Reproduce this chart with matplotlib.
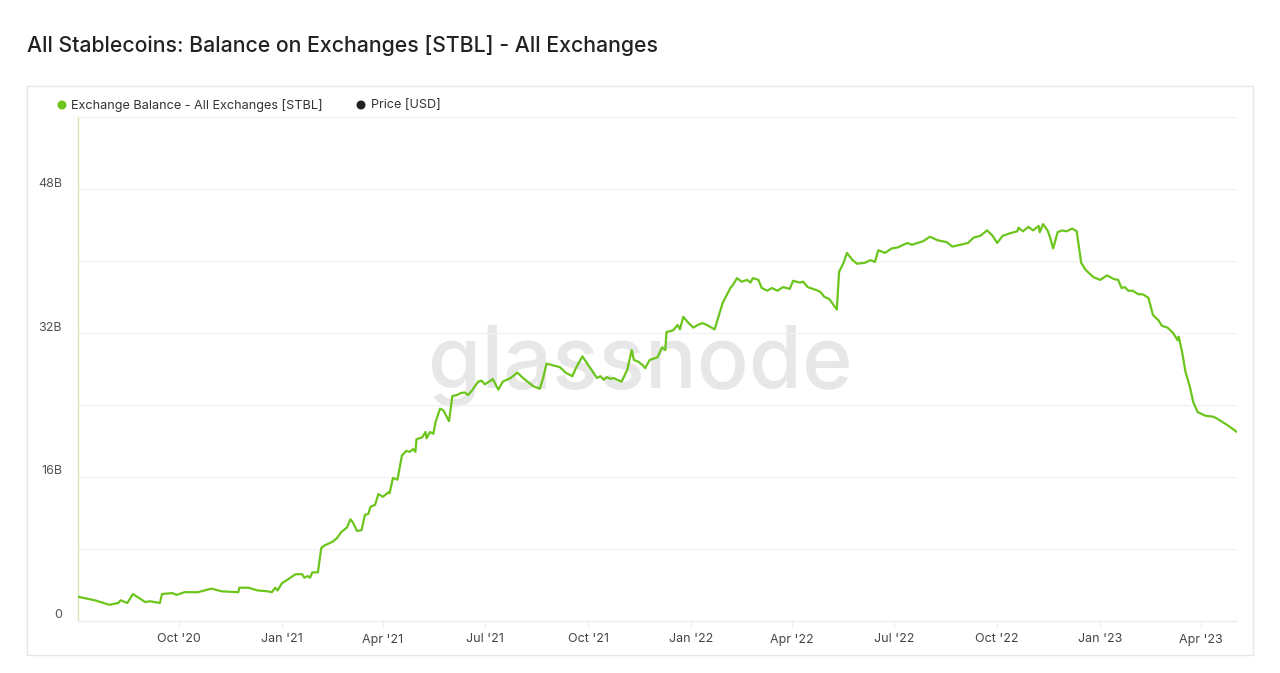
import matplotlib
matplotlib.use("Agg")
import matplotlib.pyplot as plt
import matplotlib.dates as mdates
from matplotlib.ticker import FixedLocator, FuncFormatter
from matplotlib.patches import Rectangle, Ellipse
from matplotlib.transforms import ScaledTranslation
import pandas as pd

plt.rcParams['font.family'] = ['Inter', 'DejaVu Sans']

title = "All Stablecoins: Balance on Exchanges [STBL] - All Exchanges"
series_name = "Exchange Balance - All Exchanges [STBL]"
price_name = "Price [USD]"

dates = [
    "2020-07-03", "2020-07-18", "2020-07-31", "2020-08-08", "2020-08-10", "2020-08-16",
    "2020-08-21", "2020-09-01", "2020-09-05", "2020-09-14", "2020-09-16", "2020-09-25",
    "2020-09-29", "2020-10-06", "2020-10-18", "2020-10-30", "2020-11-08", "2020-11-23",
    "2020-11-24", "2020-12-02", "2020-12-10", "2020-12-19", "2020-12-23", "2020-12-26",
    "2020-12-28", "2021-01-01", "2021-01-06", "2021-01-13", "2021-01-19", "2021-01-21",
    "2021-01-24", "2021-01-26", "2021-01-28", "2021-02-02", "2021-02-05", "2021-02-08",
    "2021-02-15", "2021-02-19", "2021-02-23", "2021-02-28", "2021-03-03", "2021-03-05",
    "2021-03-09", "2021-03-13", "2021-03-16", "2021-03-19", "2021-03-21", "2021-03-25",
    "2021-03-28", "2021-04-01", "2021-04-06", "2021-04-07", "2021-04-10", "2021-04-14",
    "2021-04-18", "2021-04-22", "2021-04-25", "2021-04-28", "2021-04-30", "2021-05-01",
    "2021-05-06", "2021-05-09", "2021-05-10", "2021-05-13", "2021-05-16", "2021-05-18",
    "2021-05-22", "2021-05-25", "2021-05-30", "2021-06-02", "2021-06-06", "2021-06-09",
    "2021-06-13", "2021-06-16", "2021-06-20", "2021-06-25", "2021-06-28", "2021-07-01",
    "2021-07-06", "2021-07-08", "2021-07-13", "2021-07-17", "2021-07-24", "2021-07-30",
    "2021-08-04", "2021-08-09", "2021-08-13", "2021-08-19", "2021-08-22", "2021-08-25",
    "2021-08-31", "2021-09-06", "2021-09-11", "2021-09-17", "2021-09-21", "2021-09-26",
    "2021-10-03", "2021-10-09", "2021-10-12", "2021-10-15", "2021-10-18", "2021-10-21",
    "2021-10-24", "2021-10-27", "2021-10-31", "2021-11-05", "2021-11-09", "2021-11-11",
    "2021-11-15", "2021-11-19", "2021-11-21", "2021-11-25", "2021-12-02", "2021-12-06",
    "2021-12-09", "2021-12-10", "2021-12-16", "2021-12-20", "2021-12-22", "2021-12-25",
    "2021-12-29", "2022-01-03", "2022-01-07", "2022-01-11", "2022-01-15", "2022-01-22",
    "2022-01-29", "2022-02-05", "2022-02-07", "2022-02-11", "2022-02-15", "2022-02-20",
    "2022-02-23", "2022-02-25", "2022-03-02", "2022-03-05", "2022-03-10", "2022-03-14",
    "2022-03-19", "2022-03-24", "2022-03-30", "2022-04-02", "2022-04-08", "2022-04-11",
    "2022-04-15", "2022-04-22", "2022-04-26", "2022-04-30", "2022-05-04", "2022-05-07",
    "2022-05-11", "2022-05-13", "2022-05-17", "2022-05-20", "2022-05-25", "2022-05-29",
    "2022-06-05", "2022-06-10", "2022-06-14", "2022-06-17", "2022-06-23", "2022-06-29",
    "2022-07-04", "2022-07-13", "2022-07-17", "2022-07-27", "2022-08-02", "2022-08-09",
    "2022-08-17", "2022-08-22", "2022-08-29", "2022-09-05", "2022-09-10", "2022-09-16",
    "2022-09-22", "2022-09-27", "2022-10-01", "2022-10-06", "2022-10-13", "2022-10-19",
    "2022-10-20", "2022-10-24", "2022-10-29", "2022-11-02", "2022-11-07", "2022-11-08",
    "2022-11-11", "2022-11-15", "2022-11-17", "2022-11-20", "2022-11-24", "2022-11-28",
    "2022-12-02", "2022-12-07", "2022-12-11", "2022-12-15", "2022-12-19", "2022-12-26",
    "2023-01-01", "2023-01-07", "2023-01-13", "2023-01-17", "2023-01-20", "2023-01-23",
    "2023-01-26", "2023-01-30", "2023-02-04", "2023-02-08", "2023-02-13", "2023-02-17",
    "2023-02-22", "2023-02-25", "2023-03-02", "2023-03-07", "2023-03-11", "2023-03-12",
    "2023-03-15", "2023-03-18", "2023-03-22", "2023-03-25", "2023-03-29", "2023-04-05",
    "2023-04-12", "2023-04-15", "2023-04-24", "2023-05-03",
]

balance_b = [
    2.7, 2.3, 1.8, 2.0, 2.3, 2.0,
    3.0, 2.1, 2.2, 2.0, 3.0, 3.1,
    2.9, 3.2, 3.2, 3.6, 3.3, 3.2,
    3.7, 3.7, 3.4, 3.3, 3.2, 3.7,
    3.4, 4.2, 4.6, 5.2, 5.2, 4.8,
    5.0, 4.8, 5.4, 5.4, 8.1, 8.4,
    8.8, 9.2, 9.9, 10.4, 11.3, 11.0,
    10.0, 10.1, 11.8, 11.9, 12.7, 12.9,
    14.1, 13.8, 14.3, 14.2, 15.9, 15.7,
    18.4, 18.9, 18.8, 19.1, 18.8, 20.2,
    20.4, 21.0, 20.3, 21.0, 20.8, 22.1,
    23.6, 23.4, 22.2, 25.0, 25.1, 25.3,
    25.4, 25.1, 25.7, 26.6, 26.7, 26.3,
    26.7, 26.9, 25.7, 26.6, 27.0, 27.6,
    27.0, 26.5, 26.1, 25.8, 27.0, 28.6,
    28.4, 28.2, 27.6, 27.2, 28.3, 29.4,
    28.1, 27.0, 27.2, 26.8, 27.1, 26.9,
    27.0, 26.8, 26.6, 27.9, 30.1, 29.0,
    28.8, 28.4, 28.1, 29.0, 29.3, 30.4,
    30.1, 32.1, 32.3, 32.9, 32.4, 33.8,
    33.2, 32.6, 32.9, 33.1, 32.9, 32.4,
    35.3, 37.0, 37.3, 38.1, 37.7, 37.9,
    37.6, 38.1, 37.9, 37.0, 36.7, 37.0,
    36.7, 37.1, 36.9, 37.8, 37.6, 37.7,
    37.1, 36.8, 36.6, 36.0, 35.8, 35.3,
    34.6, 38.8, 39.8, 40.9, 40.1, 39.7,
    39.8, 40.1, 39.9, 41.2, 40.9, 41.4,
    41.5, 42.0, 41.8, 42.2, 42.7, 42.3,
    42.1, 41.6, 41.8, 42.0, 42.6, 42.8,
    43.4, 42.8, 42.0, 42.8, 43.1, 43.3,
    43.7, 43.3, 43.8, 43.4, 43.9, 43.2,
    44.1, 43.4, 42.7, 41.4, 43.2, 43.4,
    43.3, 43.6, 43.3, 39.8, 39.0, 38.2,
    37.9, 38.4, 38.0, 37.9, 37.0, 37.1,
    36.7, 36.7, 36.3, 36.3, 35.9, 34.0,
    33.4, 32.8, 32.6, 32.0, 31.2, 31.6,
    29.9, 27.7, 26.0, 24.3, 23.2, 22.8,
    22.7, 22.5, 21.8, 21.0,
]

y_tick_values = [0, 16, 32, 48]
y_tick_labels = ["0", "16B", "32B", "48B"]
y_grid_values = [8, 24, 40, 56]
x_tick_dates = ["2020-10-01", "2021-01-01", "2021-04-01", "2021-07-01", "2021-10-01",
                "2022-01-01", "2022-04-01", "2022-07-01", "2022-10-01", "2023-01-01",
                "2023-04-01"]
x_start, x_end = "2020-07-03", "2023-05-03"

GREEN = "#6cc51c"

W, H = 1280, 673
fig = plt.figure(figsize=(W / 100, H / 100), dpi=100)
fig.patch.set_facecolor("white")

# outer card (behind everything)
card = Rectangle((27 / W, 1 - 655 / H), (1253 - 27) / W, (655 - 86) / H,
                 transform=fig.transFigure, facecolor="white",
                 edgecolor="#e6e6e6", linewidth=1.0, zorder=-10)
fig.patches.append(card)

fig.text(27 / W, 1 - 46 / H, title, fontsize=15.3, color="#222222",
         ha="left", va="center", fontweight="medium")

left, right, top, bottom = 78, 1237, 117, 621
ax = fig.add_axes([left / W, 1 - bottom / H, (right - left) / W, (bottom - top) / H])
ax.set_facecolor("none")
ax.set_zorder(5)

x = pd.to_datetime(dates)
ax.plot(x, balance_b, color=GREEN, linewidth=1.6, zorder=3, solid_joinstyle="round")

ax.set_xlim(pd.Timestamp(x_start), pd.Timestamp(x_end))
ax.set_ylim(0, 56)

ax.yaxis.set_major_locator(FixedLocator(y_tick_values))
ax.set_yticklabels(y_tick_labels)
ax.yaxis.set_minor_locator(FixedLocator(y_grid_values))
ax.grid(True, axis="y", which="both", color="#f1f1f1", linewidth=0.9, zorder=0)

ax.xaxis.set_major_locator(FixedLocator(mdates.date2num(pd.to_datetime(x_tick_dates))))
ax.xaxis.set_major_formatter(FuncFormatter(lambda v, p: mdates.num2date(v).strftime("%b '%y")))

for s in ["top", "right"]:
    ax.spines[s].set_visible(False)
ax.spines["left"].set_color("#d5e6b4")
ax.spines["left"].set_linewidth(1.0)
ax.spines["bottom"].set_color("#ececec")
ax.spines["bottom"].set_linewidth(1.0)

ax.tick_params(axis="y", which="both", length=0, pad=11.5, labelsize=9, labelcolor="#555555")
ax.tick_params(axis="x", length=5, color="#eeeeee", pad=4, labelsize=9, labelcolor="#444444")

# y labels sit slightly above their gridlines
shift = ScaledTranslation(0, 7 / 100, fig.dpi_scale_trans)
for lab in ax.get_yticklabels():
    lab.set_transform(lab.get_transform() + shift)

# watermark
ax.text(0.485, 0.505, "glassnode", transform=ax.transAxes, fontsize=62,
        color="#e7e7e7", ha="center", va="center", fontweight="medium", zorder=1)

# legend
fig.patches.append(Ellipse((62 / W, 1 - 105 / H), 9 / W, 9 / H, transform=fig.transFigure,
                           facecolor=GREEN, edgecolor="none", zorder=6))
fig.text(71 / W, 1 - 105 / H, series_name, fontsize=9.1, color="#333333",
         ha="left", va="center")
fig.patches.append(Ellipse((361 / W, 1 - 105 / H), 9 / W, 9 / H, transform=fig.transFigure,
                           facecolor="#222222", edgecolor="none", zorder=6))
fig.text(371 / W, 1 - 105 / H, price_name, fontsize=9.1, color="#333333",
         ha="left", va="center")

fig.savefig("out.png", dpi=100, facecolor="white")
